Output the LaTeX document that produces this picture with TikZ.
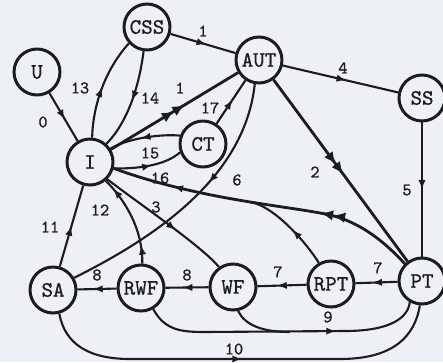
\documentclass[tikz,border=0pt]{standalone}
\usepackage{fontspec}
\newfontfamily\typew{lmmono10-regular.otf}[FakeBold=0.8]
\usetikzlibrary{arrows.meta,decorations.markings}
\definecolor{paper}{RGB}{237,240,245}
\definecolor{ink}{RGB}{28,28,30}
\tikzset{
  state/.style={circle, draw=ink, line width=1.7pt, fill=paper, minimum size=0.92cm, inner sep=0pt, font=\typew\fontsize{12.5}{12.5}\selectfont, text=ink},
  lbl/.style={font=\typew\fontsize{10}{10}\selectfont, text=ink, inner sep=1pt},
  edge/.style={draw=ink, line width=1.2pt},
  heavy/.style={draw=ink, line width=1.6pt},
  arrowat/.style={postaction={decorate, decoration={markings, mark=at position #1 with {\arrow[ink]{Latex[length=5.5pt,width=4.2pt]}}}}},
  bigarrowat/.style={postaction={decorate, decoration={markings, mark=at position #1 with {\arrow[ink]{Latex[length=7pt,width=6pt] Latex[length=7pt,width=6pt]}}}}},
}
\begin{document}
\begin{tikzpicture}[x=0.02cm, y=-0.02cm]
\fill[paper] (0,0) rectangle (443,362);
\useasboundingbox (0,0) rectangle (443,362);

% junction points where branches merge
\coordinate (j16) at (250,202);
\coordinate (j9) at (290,332);

% states
\node[state] (U)   at (37,72)   {U};
\node[state] (CSS) at (147,27)  {CSS};
\node[state] (AUT) at (259,60)  {AUT};
\node[state] (SS)  at (422,98)  {SS};
\node[state] (CT)  at (203,144) {CT};
\node[state] (I)   at (90,162)  {I};
\node[state] (SA)  at (53,290)  {SA};
\node[state] (RWF) at (141,288) {RWF};
\node[state] (WF)  at (233,287) {WF};
\node[state] (RPT) at (331,284) {RPT};
\node[state] (PT)  at (422,281) {PT};

% transitions
\draw[edge, arrowat=0.55] (U) -- (I);
\draw[edge, arrowat=0.5] (I.85) .. controls (93,105) and (105,70) .. (CSS.222);
\draw[edge, arrowat=0.5] (CSS.262) .. controls (140,80) and (130,120) .. (I.48);
\draw[heavy, bigarrowat=0.58] (I) -- (AUT);
\draw[edge, arrowat=0.55] (CSS) -- (AUT);
\draw[edge, arrowat=0.55] (AUT) -- (SS);
\draw[edge, arrowat=0.5] (SS) -- (PT);
\draw[heavy, bigarrowat=0.52] (AUT) -- (PT);
\draw[edge, arrowat=0.4] (AUT.-100) .. controls (245,175) and (160,235) .. (SA.30);
\draw[edge, arrowat=0.55] (CT) -- (AUT);
\draw[edge, arrowat=0.55] (CT.160) .. controls (165,134) and (130,137) .. (I.33);
\draw[edge, arrowat=0.55] (I.-15) .. controls (135,169) and (165,166) .. (CT.200);
\draw[heavy, bigarrowat=0.32, arrowat=0.8]
  (PT.135) .. controls (385,242) and (360,222) .. (330,215)
  .. controls (290,206) and (200,200) .. (I.-15);
\draw[edge, arrowat=0.45] (RPT.120) .. controls (308,245) and (275,206) .. (j16);
\draw[edge, arrowat=0.6] (I.-45) .. controls (145,208) and (200,245) .. (WF.125);
\draw[edge, arrowat=0.2, arrowat=0.88] (RWF.87) .. controls (143,235) and (130,205) .. (I.-50);
\draw[edge, arrowat=0.5] (SA) -- (I);
\draw[edge, arrowat=0.6] (PT) -- (RPT);
\draw[edge, arrowat=0.6] (RPT) -- (WF);
\draw[edge, arrowat=0.6] (WF) -- (RWF);
\draw[edge, arrowat=0.6] (RWF) -- (SA);
\draw[edge, arrowat=0.69]
  (RWF.-60) .. controls (165,330) and (180,332) .. (205,332) -- (345,331)
  .. controls (390,331) and (408,318) .. (PT.-120);
\draw[edge] (WF.-78) .. controls (245,325) and (262,332) .. (j9);
\draw[edge, arrowat=0.5]
  (SA.-75) .. controls (65,345) and (90,359) .. (130,359) -- (340,359)
  .. controls (395,359) and (415,335) .. (PT.-95);

% transition numbers
\node[lbl] (n0)  at (43,122)  {0};
\node[lbl] (n13) at (80,88)   {13};
\node[lbl] (n14) at (150,98)  {14};
\node[lbl] (n1a) at (180,88)  {1};
\node[lbl] (n1b) at (203,31)  {1};
\node[lbl] (n17) at (210,108) {17};
\node[lbl] (n15) at (150,153) {15};
\node[lbl] (n16) at (160,178) {16};
\node[lbl] (n4)  at (343,68)  {4};
\node[lbl] (n5)  at (407,190) {5};
\node[lbl] (n2)  at (315,172) {2};
\node[lbl] (n6)  at (237,180) {6};
\node[lbl] (n3)  at (156,207) {3};
\node[lbl] (n12) at (100,210) {12};
\node[lbl] (n11) at (50,227)  {11};
\node[lbl] (n8a) at (97,275)  {8};
\node[lbl] (n8b) at (187,275) {8};
\node[lbl] (n7a) at (278,272) {7};
\node[lbl] (n7b) at (378,268) {7};
\node[lbl] (n9)  at (328,317) {9};
\node[lbl] (n10) at (234,349) {10};
\end{tikzpicture}
\end{document}
